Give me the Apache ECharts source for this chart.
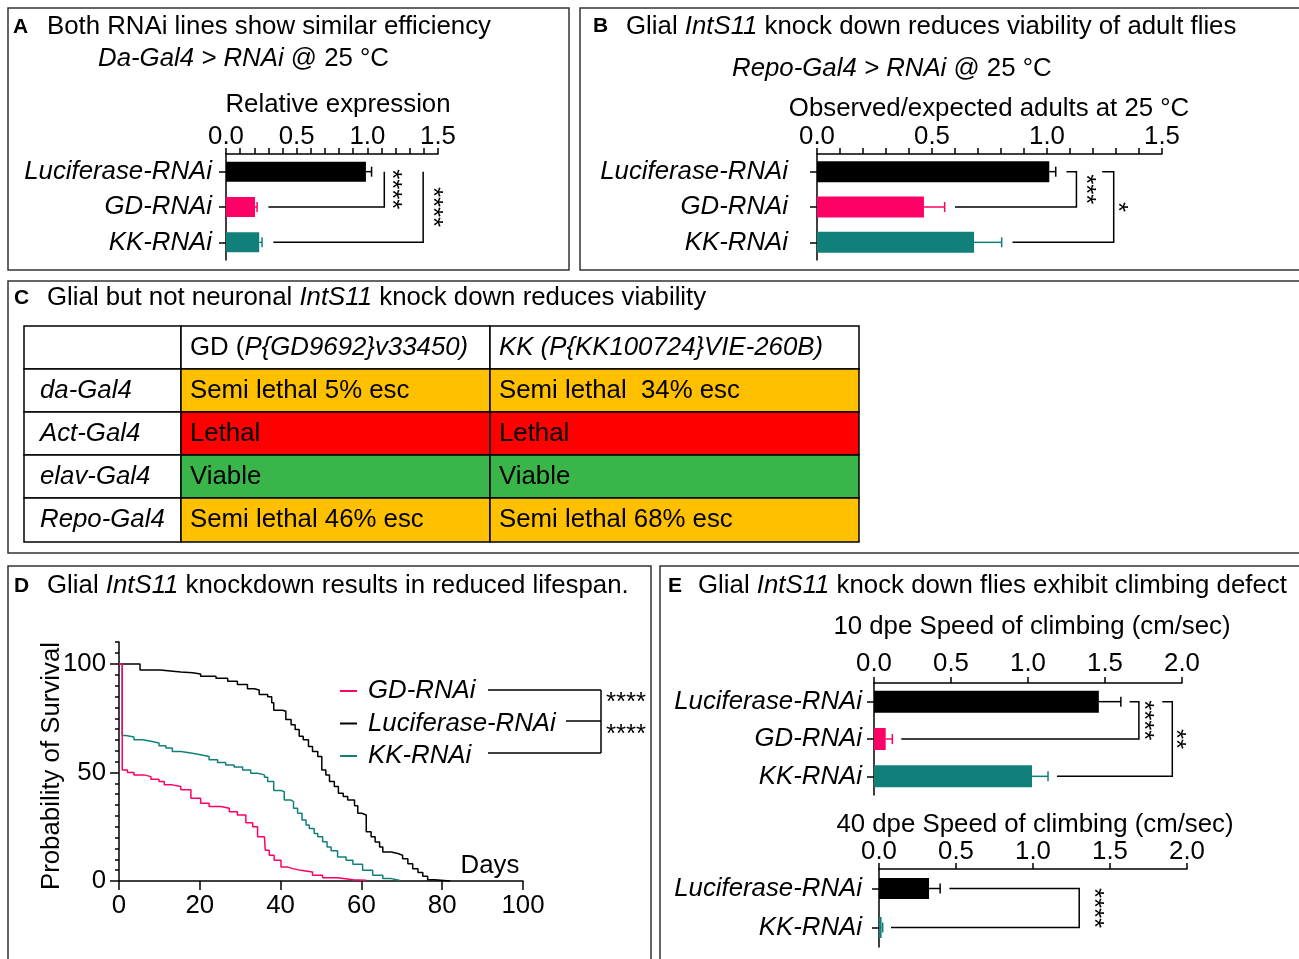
<!DOCTYPE html>
<html><head><meta charset="utf-8">
<script src="https://cdn.jsdelivr.net/npm/echarts@6/dist/echarts.min.js"></script>
<style>html,body{margin:0;padding:0;background:#fff}#c{width:1299px;height:959px}</style>
</head><body><div id="c"></div>
<script>
// ---------------- DATA ----------------
const barCategories = ['Luciferase-RNAi', 'GD-RNAi', 'KK-RNAi'];
const expressionMean = [0.99, 0.205, 0.235];
const expressionSEM = [0.04, 0.015, 0.02];
const viabilityMean = [1.01, 0.465, 0.683];
const viabilitySEM = [0.028, 0.09, 0.12];
const climb10Mean = [1.46, 0.076, 1.026];
const climb10SEM = [0.143, 0.043, 0.104];
const climb40Categories = ['Luciferase-RNAi', 'KK-RNAi'];
const climb40Mean = [0.325, 0.017];
const climb40SEM = [0.072, 0.007];

const survivalLuciferase = [[0,100],[5.2,97.2],[10.2,96.3],[15.3,96.0],[18.2,95.4],[20.2,94.4],[24.0,93.4],[26.9,92.1],[29.3,90.6],[31.8,88.6],[33.5,88.0],[34.7,86.0],[36.8,84.9],[37.8,82.1],[38.3,78.7],[40.5,78.2],[41.3,74.4],[42.6,72.0],[43.6,69.8],[44.6,66.7],[45.6,65.1],[46.9,62.0],[47.9,59.7],[49.2,57.4],[50.2,51.2],[51.2,48.9],[52.1,45.8],[53.3,43.5],[54.3,40.4],[55.5,38.9],[56.6,37.3],[58.3,34.7],[59.1,31.2],[60.1,30.4],[61.2,22.7],[62.4,20.4],[63.4,18.0],[64.5,15.7],[65.3,13.4],[67.4,12.7],[69.0,11.9],[70.2,10.3],[71.5,8.0],[72.7,5.7],[74.0,3.9],[75.2,2.2],[76.4,0.6],[78.1,0],[82,0]];
const survivalKK = [[0,100],[0.8,67.1],[1.7,66.4],[3.7,65.1],[5.8,64.4],[7.9,63.6],[9.9,62.3],[11.6,61.3],[13.2,59.7],[15.3,59.0],[17.8,58.2],[20.2,57.4],[22.3,55.9],[24.4,54.6],[26.4,53.5],[28.5,52.5],[30.6,51.2],[32.6,49.7],[34.3,48.9],[36.0,47.8],[36.8,45.8],[38.3,41.7],[40.1,41.2],[40.9,37.3],[42.6,36.6],[43.2,33.5],[44.2,31.2],[45.3,28.1],[46.3,25.8],[47.1,24.2],[48.3,21.9],[49.2,20.4],[50.4,18.1],[51.5,15.7],[52.5,13.9],[54.1,11.1],[56.2,9.6],[57.9,7.7],[60.3,4.9],[62.8,2.6],[65.3,1.1],[67.4,0.3],[69.4,0]];
const survivalGD = [[0,100],[0.8,51.2],[2.1,50.0],[3.7,48.9],[6.2,48.1],[7.9,46.9],[9.9,45.8],[11.2,44.3],[13.2,43.5],[15.3,42.0],[17.8,38.1],[20.2,35.8],[22.3,34.3],[25.2,33.5],[27.3,31.9],[29.3,30.4],[31.4,26.9],[33.1,25.0],[34.3,20.4],[36.0,19.6],[36.2,14.2],[37.2,11.9],[38.4,9.6],[40.1,6.5],[41.7,5.7],[43.0,4.9],[45.0,4.2],[47.9,2.6],[50.4,1.5],[54.1,0.6],[58.0,0.3],[61.2,0.3]];

const tableRowLabels = ['da-Gal4', 'Act-Gal4', 'elav-Gal4', 'Repo-Gal4'];
const tableHeaders = ['GD (P{GD9692}v33450)', 'KK (P{KK100724}VIE-260B)'];
const tableHeaderUprightPrefix = ['GD (', ''];
const tableCells = [
  ['Semi lethal 5% esc', 'Semi lethal  34% esc'],
  ['Lethal', 'Lethal'],
  ['Viable', 'Viable'],
  ['Semi lethal 46% esc', 'Semi lethal 68% esc']
];
const tableStatus = [['semi','semi'],['lethal','lethal'],['viable','viable'],['semi','semi']];

// significance annotations (positions in axis value units)
const sigA = [
  {from:0, to:1, top:1.12, vert:1.12, bottom:0.30, stars:'****', starsX:1.21},
  {from:0, to:2, top:1.395, vert:1.395, bottom:0.335, stars:'****', starsX:1.50}
];
const sigB = [
  {from:0, to:1, top:1.085, vert:1.128, bottom:0.60, stars:'***', starsX:1.193},
  {from:0, to:2, top:1.24, vert:1.29, bottom:0.85, stars:'*', starsX:1.33}
];
const sigE10 = [
  {from:0, to:1, top:1.66, vert:1.72, bottom:0.177, stars:'****', starsX:1.786},
  {from:0, to:2, top:1.872, vert:1.937, bottom:1.188, stars:'**', starsX:1.995}
];
const sigE40 = [
  {from:0, to:1, top:0.457, vert:1.30, bottom:0.078, stars:'****', starsX:1.432}
];

// ---------------- STYLE ----------------
const FONT = 'Liberation Sans';
const FS = 25.8;
const BLACK = '#000000', PINK = '#FF0066', TEAL = '#11807B';
const barColors = [BLACK, PINK, TEAL];
const statusColor = {semi:'#FFC000', lethal:'#FF0000', viable:'#3AB54A'};
const AX = {color:'#000', width:1.5};

function xBarAxis(g, max, minor, margin) {
  return {gridIndex:g, type:'value', position:'top', min:0, max:max, interval:0.5,
    axisLine:{show:true, onZero:false, lineStyle:AX},
    axisTick:{show:true, length:6, lineStyle:AX},
    minorTick:{show:minor, splitNumber:5, length:6, lineStyle:AX},
    splitLine:{show:false}, minorSplitLine:{show:false},
    axisLabel:{color:'#000', fontSize:FS, fontFamily:FONT, margin:margin, formatter:v=>v.toFixed(1)}};
}
function yBarAxis(g, cats, margin) {
  return {gridIndex:g, type:'category', data:cats, inverse:true,
    axisLine:{show:true, onZero:false, lineStyle:AX},
    axisTick:{show:true, alignWithLabel:true, length:7, lineStyle:AX},
    splitLine:{show:false},
    axisLabel:{color:'#000', fontSize:FS, fontFamily:FONT, fontStyle:'italic', margin:margin}};
}
function barSeries(g, means, colors, w) {
  return {type:'bar', name:'bar'+g, xAxisIndex:g, yAxisIndex:g, barWidth:w,
    data: means.map((m,i)=>({value:m, itemStyle:{color:colors[i]}})), z:2};
}
function errSeries(g, means, sems, colors) {
  return {type:'custom', xAxisIndex:g, yAxisIndex:g, clip:false, z:5, silent:true,
    data: means.map((m,i)=>[m+sems[i], i]), encode:{x:0, y:1},
    renderItem:(params, api)=>{
      const i = params.dataIndex;
      const p0 = api.coord([means[i], i]);
      const p1 = api.coord([means[i]+sems[i], i]);
      const h = 5;
      return {type:'group', children:[
        {type:'line', shape:{x1:p0[0], y1:p0[1], x2:p1[0], y2:p1[1]}, style:{stroke:colors[i], lineWidth:1.5}},
        {type:'line', shape:{x1:p1[0], y1:p1[1]-h, x2:p1[0], y2:p1[1]+h}, style:{stroke:colors[i], lineWidth:1.5}}
      ]};
    }};
}
function sigSeries(g, list) {
  return {type:'custom', xAxisIndex:g, yAxisIndex:g, clip:false, z:5, silent:true,
    data: list.map(b=>[b.vert, b.from]), encode:{x:0, y:1},
    renderItem:(params, api)=>{
      const b = list[params.dataIndex];
      const a = api.coord([b.top, b.from]), c = api.coord([b.vert, b.from]);
      const d = api.coord([b.vert, b.to]), e = api.coord([b.bottom, b.to]);
      const s = api.coord([b.starsX, b.from]);
      const sy = (c[1] + d[1]) / 2;
      return {type:'group', children:[
        {type:'polyline', shape:{points:[a, c, d, e]}, style:{stroke:'#000', lineWidth:1.5, fill:'none'}},
        {type:'text', x:s[0]-6, y:sy, rotation:-Math.PI/2,
          style:{text:b.stars, fontSize:FS, fontFamily:FONT, fill:'#000', align:'center', verticalAlign:'middle', textAlign:'center', textVerticalAlign:'middle'}}
      ]};
    }};
}
function lineSeries(name, data, color) {
  return {type:'line', name:name, xAxisIndex:4, yAxisIndex:4, data:data, step:'end', symbol:'none', showSymbol:false,
    clip:false, lineStyle:{color:color, width:1.5}, itemStyle:{color:color}, color:color, z:3};
}

// ---------------- GRAPHICS (frames, titles, table) ----------------
const g = [];
function frame(x, y, w, h) {
  g.push({type:'rect', shape:{x:x, y:y, width:w, height:h}, style:{fill:'none', stroke:'#333', lineWidth:1.5}, silent:true});
}
function text(x, y, t, opt) {
  opt = opt || {};
  const st = {text:t, fontSize:opt.size||FS, fontFamily:FONT, fontWeight:opt.weight||'normal',
    fontStyle:opt.style||'normal', fill:'#000',
    align:opt.align||'left', verticalAlign:'middle', textAlign:opt.align||'left', textVerticalAlign:'middle',
    rich:{
      i:{fontSize:opt.size||FS, fontFamily:FONT, fontStyle:'italic', fill:'#000'},
      n:{fontSize:opt.size||FS, fontFamily:FONT, fontStyle:'normal', fill:'#000'}
    }};
  g.push({type:'text', x:x, y:y, rotation:opt.rot||0, style:st, silent:true, z:10});
}
frame(8, 8, 561, 262);
frame(580, 8, 730, 262);
frame(8, 281, 1300, 272);
frame(8, 566, 643, 400);
frame(660, 566, 650, 400);

text(13, 27, 'A', {size:21, weight:'bold'});
text(47, 27, 'Both RNAi lines show similar efficiency');
text(98, 59, '{i|Da-Gal4 > RNAi} @ 25 °C');
text(338, 105, 'Relative expression', {align:'center'});

text(593, 26, 'B', {size:21, weight:'bold'});
text(626, 27, 'Glial {i|IntS11} knock down reduces viability of adult flies');
text(732, 69, '{i|Repo-Gal4 > RNAi} @ 25 °C');
text(989, 109, 'Observed/expected adults at 25 °C', {align:'center'});

text(14, 298, 'C', {size:21, weight:'bold'});
text(47, 298, 'Glial but not neuronal {i|IntS11} knock down reduces viability');

text(14, 586, 'D', {size:21, weight:'bold'});
text(47, 586, 'Glial {i|IntS11} knockdown results in reduced lifespan.');
text(52, 766, 'Probability of Survival', {align:'center', rot:Math.PI/2});
text(490, 866, 'Days', {align:'center'});

text(668, 586, 'E', {size:21, weight:'bold'});
text(698, 586, 'Glial {i|IntS11} knock down flies exhibit climbing defect');
text(1032, 627, '10 dpe Speed of climbing (cm/sec)', {align:'center'});
text(1035, 825, '40 dpe Speed of climbing (cm/sec)', {align:'center'});

// D legend brackets
function seg(x1, y1, x2, y2) {
  g.push({type:'line', shape:{x1:x1, y1:y1, x2:x2, y2:y2}, style:{stroke:'#000', lineWidth:1.5}, silent:true});
}
seg(488, 690, 601, 690);
seg(566, 721, 601, 721);
seg(488, 753, 601, 753);
seg(601, 690, 601, 753);
text(606, 703, '****');
text(606, 735, '****');

// table
const colX = [24, 181, 490, 859];
const rowY = [326, 369, 412, 455, 498, 542];
for (let r = 0; r < 5; r++) {
  for (let c = 0; c < 3; c++) {
    let fill = '#fff';
    if (r > 0 && c > 0) fill = statusColor[tableStatus[r-1][c-1]];
    g.push({type:'rect', shape:{x:colX[c], y:rowY[r], width:colX[c+1]-colX[c], height:rowY[r+1]-rowY[r]},
      style:{fill:fill, stroke:'#000', lineWidth:1.5}, silent:true, z:1});
    const cy = (rowY[r] + rowY[r+1]) / 2;
    if (r === 0 && c > 0) {
      const pre = tableHeaderUprightPrefix[c-1];
      const rest = tableHeaders[c-1].slice(pre.length);
      text(colX[c] + 9, cy, (pre ? '{n|' + pre + '}' : '') + rest, {style:'italic'});
    } else if (r > 0 && c === 0) {
      text(colX[c] + 16, cy, tableRowLabels[r-1], {style:'italic'});
    } else if (r > 0 && c > 0) {
      text(colX[c] + 9, cy, tableCells[r-1][c-1]);
    }
  }
}

// ---------------- CHART ----------------
const chart = echarts.init(document.getElementById('c'));
const option = {
  animation:false,
  backgroundColor:'#fff',
  textStyle:{fontFamily:FONT, color:'#000'},
  grid:[
    {left:226, top:154, width:212, height:106, outerBoundsMode:'none'},
    {left:817, top:154, width:345, height:106, outerBoundsMode:'none'},
    {left:874, top:683, width:308, height:112, outerBoundsMode:'none'},
    {left:879, top:869, width:308, height:78, outerBoundsMode:'none'},
    {left:119, top:664, width:404, height:217, outerBoundsMode:'none'},
    {left:119, top:642, width:404, height:22, outerBoundsMode:'none'}
  ],
  xAxis:[
    xBarAxis(0, 1.5, true, 4),
    xBarAxis(1, 1.5, true, 4),
    xBarAxis(2, 2.0, false, 6),
    xBarAxis(3, 2.0, false, 4),
    {gridIndex:4, type:'value', min:0, max:100, interval:20,
      axisLine:{show:true, onZero:false, lineStyle:AX}, axisTick:{show:true, length:9, lineStyle:AX},
      splitLine:{show:false}, axisLabel:{color:'#000', fontSize:FS, fontFamily:FONT, margin:12}},
    {gridIndex:5, type:'value', min:0, max:100, show:false}
  ],
  yAxis:[
    yBarAxis(0, barCategories, 14),
    yBarAxis(1, barCategories, 29),
    yBarAxis(2, barCategories, 12),
    yBarAxis(3, climb40Categories, 17),
    {gridIndex:4, type:'value', min:0, max:100, interval:50,
      axisLine:{show:true, onZero:false, lineStyle:AX}, axisTick:{show:true, length:9, lineStyle:AX},
      minorTick:{show:true, splitNumber:10, length:4, lineStyle:AX},
      splitLine:{show:false}, minorSplitLine:{show:false},
      axisLabel:{color:'#000', fontSize:FS, fontFamily:FONT, margin:13}},
    {gridIndex:5, type:'value', min:100, max:110, interval:5,
      axisLine:{show:true, onZero:false, lineStyle:AX}, axisTick:{show:true, length:4, lineStyle:AX},
      splitLine:{show:false}, axisLabel:{show:false}}
  ],
  legend:{show:true, data:['GD-RNAi','Luciferase-RNAi','KK-RNAi'], orient:'vertical', left:340, top:678,
    itemWidth:17, itemHeight:2, itemGap:6.5, icon:'rect', selectedMode:false, padding:0,
    textStyle:{fontSize:FS, fontFamily:FONT, fontStyle:'italic', color:'#000', lineHeight:25, padding:[0,0,0,6]}},
  series:[
    barSeries(0, expressionMean, barColors, 20),
    errSeries(0, expressionMean, expressionSEM, barColors),
    sigSeries(0, sigA),
    barSeries(1, viabilityMean, barColors, 21),
    errSeries(1, viabilityMean, viabilitySEM, barColors),
    sigSeries(1, sigB),
    barSeries(2, climb10Mean, barColors, 22),
    errSeries(2, climb10Mean, climb10SEM, barColors),
    sigSeries(2, sigE10),
    barSeries(3, climb40Mean, [BLACK, TEAL], 21),
    errSeries(3, climb40Mean, climb40SEM, [BLACK, TEAL]),
    sigSeries(3, sigE40),
    lineSeries('Luciferase-RNAi', survivalLuciferase, BLACK),
    lineSeries('KK-RNAi', survivalKK, TEAL),
    lineSeries('GD-RNAi', survivalGD, PINK)
  ],
  graphic:{elements:g}
};
chart.setOption(option);
</script></body></html>
